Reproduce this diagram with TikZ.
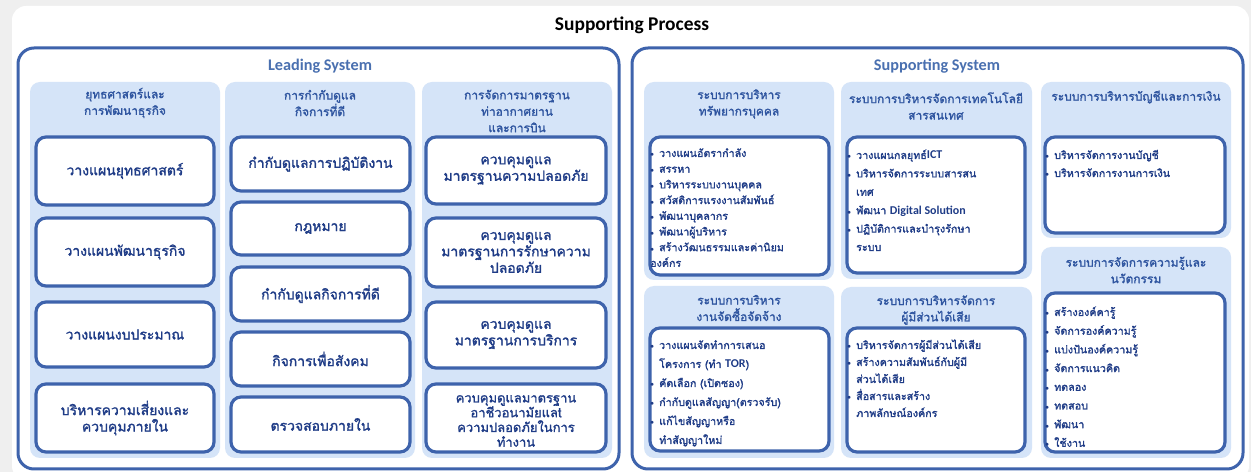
\documentclass[tikz,border=0pt]{standalone}
\usepackage{fontspec}
\newfontfamily\thaib[Script=Thai, FakeBold=1.6]{Loma}
\newfontfamily\latfont{Carlito}
\usetikzlibrary{positioning}

\definecolor{pagebg}{HTML}{EFEFEF}
\definecolor{bdr}{HTML}{3E63AC}
\definecolor{pnl}{HTML}{D5E4F8}
\definecolor{txtc}{HTML}{1F3C87}
\definecolor{hdrc}{HTML}{2F55A0}
\definecolor{sysc}{HTML}{4A70B0}

% Latin words inside Thai text
\newcommand\lat[1]{{\latfont\bfseries\fontsize{12}{12}\selectfont #1}}
% bullet and continuation indent for list lines
\newcommand\blt{\makebox[9bp][l]{\scriptsize$\bullet$}}
\newcommand\cnt{\hspace*{9bp}}

\tikzset{
  bigframe/.style={draw=bdr, line width=3bp, rounded corners=16bp},
  panel/.style={fill=pnl, rounded corners=10bp},
  wboxs/.style={draw=bdr, line width=3.2bp, fill=white, rounded corners=10bp,
    inner sep=0pt, text=txtc, align=center,
    font=\thaib\fontsize{14}{16.5}\selectfont},
  boxtext/.style={text=txtc, align=center, inner sep=0pt,
    font=\thaib\fontsize{13}{14.8}\selectfont},
  hdr/.style={text=hdrc, align=center, inner sep=0pt,
    font=\thaib\fontsize{12}{16.5}\selectfont},
  systitle/.style={text=sysc, font=\latfont\bfseries\fontsize{16.3}{18}\selectfont},
  item/.style={text=txtc, anchor=base west, inner sep=0pt,
    font=\thaib\fontsize{10.75}{12}\selectfont},
}

% white box: name, x1, y1, x2, y2, text
\newcommand\wbox[6]{%
  \node[wboxs, minimum width={#4bp-#2bp}, minimum height={#5bp-#3bp}]
    (#1) at ({(#2+#4)/2},{(#3+#5)/2}) {#6};}
% list of lines: name prefix, x, first baseline, line step, {lines}
\newcommand\blist[5]{%
  \foreach \t [count=\i] in {#5} {
    \node[item] (#1\i) at (#2,{#3+(\i-1)*#4}) {\t};
  }}

\begin{document}
\begin{tikzpicture}[x=1bp,y=-1bp]
\useasboundingbox (0,0) rectangle (1251,472);
\fill[pagebg] (0,0) rectangle (1251,472);
\fill[white, rounded corners=14bp] (12,6) rectangle (1249,480);

\node[font=\latfont\bfseries\fontsize{19.5}{21}\selectfont] (title) at (632,25) {Supporting Process};

% ---------------- Leading System ----------------
\draw[bigframe] (18,48) rectangle (619,469);
\node[systitle] (lead) at (320,66) {Leading System};

\fill[panel] (30,82) rectangle (220,458);
\fill[panel] (225,82) rectangle (415,458);
\fill[panel] (422,82) rectangle (612,458);

\node[hdr] (h1) at (125,103) {ยุทธศาสตร์และ\\การพัฒนาธุรกิจ};
\node[hdr] (h2) at (320,103) {การกำกับดูแล\\กิจการที่ดี};
\node[hdr] (h3) at (517,111) {การจัดการมาตรฐาน\\ท่าอากาศยาน\\และการบิน};

\wbox{a1}{36}{137}{214}{205}{วางแผนยุทธศาสตร์}
\wbox{a2}{36}{218}{214}{286}{วางแผนพัฒนาธุรกิจ}
\wbox{a3}{36}{302}{214}{367}{วางแผนงบประมาณ}
\wbox{a4}{36}{384}{214}{452}{บริหารความเสี่ยงและ\\ควบคุมภายใน}

\wbox{b1}{231}{137}{410}{191}{กำกับดูแลการปฏิบัติงาน}
\wbox{b2}{231}{202}{410}{255}{กฎหมาย}
\wbox{b3}{231}{267}{410}{321}{กำกับดูแลกิจการที่ดี}
\wbox{b4}{231}{332}{410}{386}{กิจการเพื่อสังคม}
\wbox{b5}{231}{397}{410}{452}{ตรวจสอบภายใน}

\wbox{c1}{426}{137}{606}{204}{ควบคุมดูแล\\มาตรฐานความปลอดภัย}
\wbox{c2}{426}{218}{606}{287}{ควบคุมดูแล\\มาตรฐานการรักษาความ\\ปลอดภัย}
\wbox{c3}{426}{302}{606}{368}{ควบคุมดูแล\\มาตรฐานการบริการ}
\wbox{c4}{426}{384}{606}{452}{}
\node[boxtext] (c4t) at (516,421) {ควบคุมดูแลมาตรฐาน\\อาชีวอนามัยแลt\\ความปลอดภัยในการ\\ทำงาน};

% ---------------- Supporting System ----------------
\draw[bigframe] (632,48) rectangle (1243,469);
\node[systitle] (supp) at (937,66) {Supporting System};

\fill[panel] (644,82) rectangle (834,280);
\fill[panel] (644,286) rectangle (834,458);
\fill[panel] (841,82) rectangle (1032,279);
\fill[panel] (841,287) rectangle (1032,458);
\fill[panel] (1041,82) rectangle (1231,238);
\fill[panel] (1041,247) rectangle (1231,458);

\node[hdr] (hr) at (739,104) {ระบบการบริหาร\\ทรัพยากรบุคคล};
\node[hdr] (hp) at (739,308) {ระบบการบริหาร\\งานจัดซื้อจัดจ้าง};
\node[hdr] (hi) at (936,106) {ระบบการบริหารจัดการเทคโนโลยี\\สารสนเทศ};
\node[hdr] (hs) at (936,310) {ระบบการบริหารจัดการ\\ผู้มีส่วนได้เสีย};
\node[hdr] (ha) at (1136,97) {ระบบการบริหารบัญชีและการเงิน};
\node[hdr] (hk) at (1136,270) {ระบบการจัดการความรู้และ\\นวัตกรรม};

\wbox{d1}{650}{137}{829}{275}{}
\wbox{d2}{650}{328}{829}{451}{}
\wbox{e1}{847}{137}{1025}{273}{}
\wbox{e2}{847}{328}{1025}{452}{}
\wbox{f1}{1045}{137}{1225}{233}{}
\wbox{f2}{1045}{293}{1225}{452}{}

\blist{hrl}{650}{157}{15.7}{{\blt วางแผนอัตรากำลัง},{\blt สรรหา},{\blt บริหารระบบงานบุคคล},
  {\blt สวัสดิการแรงงานสัมพันธ์},{\blt พัฒนาบุคลากร},{\blt พัฒนาผู้บริหาร},
  {\blt สร้างวัฒนธรรมและค่านิยม},{องค์กร}}
\blist{prl}{650}{349}{19}{{\blt วางแผนจัดทำการเสนอ},{\cnt โครงการ (ทำ \lat{TOR})},
  {\blt คัดเลือก (เปิดซอง)},{\blt กำกับดูแลสัญญา(ตรวจรับ)},{\blt แก้ไขสัญญาหรือ},{\cnt ทำสัญญาใหม่}}
\blist{icl}{847}{159}{18.4}{{\blt วางแผนกลยุทธ์\lat{ICT}},{\blt บริหารจัดการระบบสารสน},{\cnt เทศ},
  {\blt พัฒนา \lat{Digital Solution}},{\blt ปฏิบัติการและบำรุงรักษา},{\cnt ระบบ}}
\blist{stl}{847}{349}{17}{{\blt บริหารจัดการผู้มีส่วนได้เสีย},{\blt สร้างความสัมพันธ์กับผู้มี},
  {\cnt ส่วนได้เสีย},{\blt สื่อสารและสร้าง},{\cnt ภาพลักษณ์องค์กร}}
\blist{acl}{1045}{159}{18}{{\blt บริหารจัดการงานบัญชี},{\blt บริหารจัดการงานการเงิน}}
\blist{knl}{1045}{316}{18.7}{{\blt สร้างองค์คารู้},{\blt จัดการองค์ความรู้},{\blt แบ่งปันองค์ความรู้},
  {\blt จัดการแนวคิด},{\blt ทดลอง},{\blt ทดสอบ},{\blt พัฒนา},{\blt ใช้งาน}}
\end{tikzpicture}
\end{document}
